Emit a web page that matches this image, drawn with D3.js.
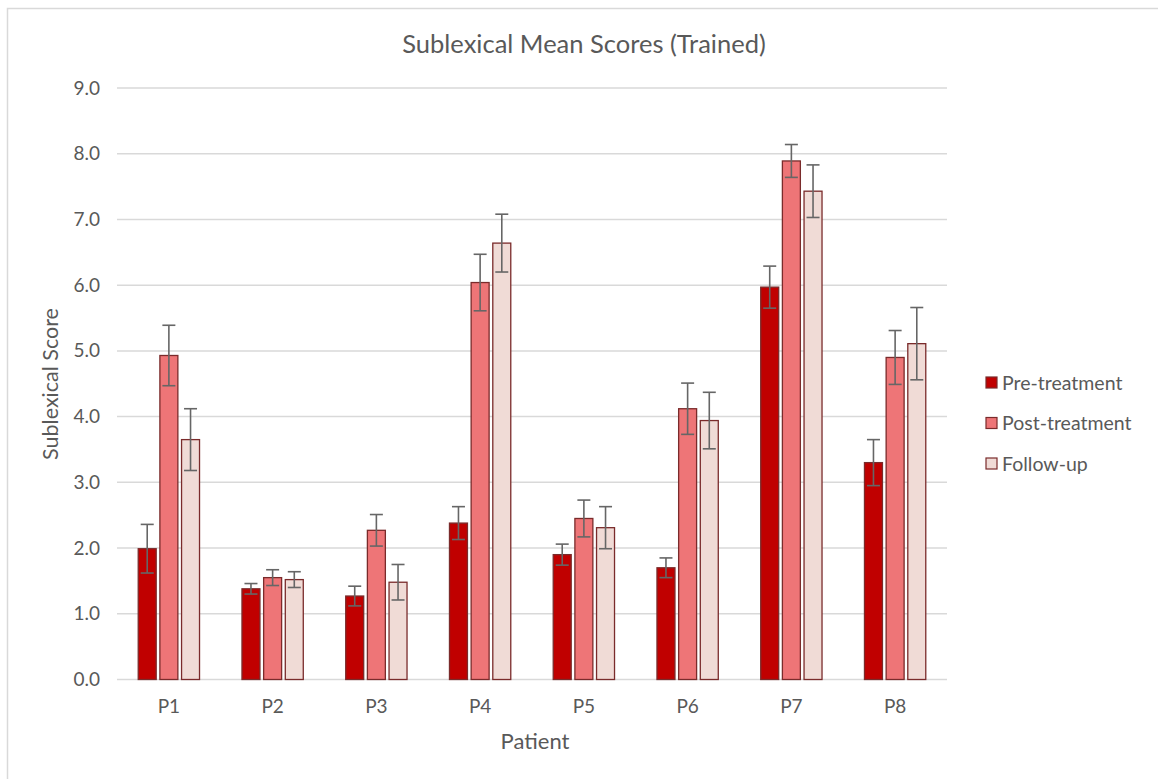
<!DOCTYPE html>
<html><head><meta charset="utf-8">
<script src="https://cdn.jsdelivr.net/npm/d3@7"></script>
<style>body{margin:0;background:#fff;} svg{display:block;}</style>
</head><body>
<svg id="c" width="1158" height="779"></svg>
<script>
const patients = ["P1","P2","P3","P4","P5","P6","P7","P8"];
const seriesNames = ["Pre-treatment","Post-treatment","Follow-up"];
const preValues    = [1.99, 1.38, 1.27, 2.38, 1.90, 1.70, 5.97, 3.30];
const postValues   = [4.93, 1.55, 2.27, 6.04, 2.45, 4.12, 7.89, 4.90];
const followValues = [3.65, 1.52, 1.48, 6.64, 2.31, 3.94, 7.43, 5.11];
const preErrors    = [0.37, 0.08, 0.15, 0.25, 0.16, 0.15, 0.32, 0.35];
const postErrors   = [0.46, 0.12, 0.24, 0.43, 0.28, 0.39, 0.25, 0.41];
const followErrors = [0.47, 0.12, 0.27, 0.44, 0.32, 0.43, 0.40, 0.55];
const yTicks = [0,1,2,3,4,5,6,7,8,9];
const colors = ["#C00000","#EE7577","#F0DBD6"];

const values = [preValues, postValues, followValues];
const errors = [preErrors, postErrors, followErrors];
const data = patients.flatMap((p,i)=>seriesNames.map((s,j)=>({p, s, j, v: values[j][i], e: errors[j][i]})));

const svg = d3.select("#c");
const font = "Lato, 'Open Sans', sans-serif";
const textCol = "#595959";

// chart border
svg.append("path").attr("d","M7.5,779 L7.5,8.5 L1158,8.5").attr("fill","none").attr("stroke","#d9d9d9").attr("stroke-width",1.5);

const pLeft=117, pRight=947, pTop=88, pBottom=679.5;
const x = d3.scaleBand().domain(patients).range([pLeft,pRight]);
const xs = d3.scaleBand().domain(seriesNames).range([0,x.bandwidth()]).paddingInner(0.17).paddingOuter(0.98);
const y = d3.scaleLinear().domain([0,9]).range([pBottom,pTop]);

// gridlines
svg.append("g").selectAll("line").data(yTicks).join("line")
  .attr("x1",pLeft).attr("x2",pRight).attr("y1",d=>y(d)).attr("y2",d=>y(d))
  .attr("stroke","#d9d9d9").attr("stroke-width",1.5);

// y axis
const yAxis = d3.axisLeft(y).tickValues(yTicks).tickFormat(d3.format(".1f")).tickSize(0).tickPadding(17);
const gy = svg.append("g").attr("transform",`translate(${pLeft},0)`).call(yAxis);
gy.select(".domain").remove();
gy.selectAll("text").attr("font-family",font).attr("font-size",19).attr("fill",textCol);

// x axis
const xAxis = d3.axisBottom(x).tickSize(0).tickPadding(20);
const gx = svg.append("g").attr("transform",`translate(0,${pBottom})`).call(xAxis);
gx.select(".domain").remove();
gx.selectAll("text").attr("font-family",font).attr("font-size",19).attr("fill",textCol);

// bars
svg.append("g").selectAll("rect").data(data).join("rect")
  .attr("x",d=>x(d.p)+xs(d.s)).attr("width",xs.bandwidth())
  .attr("y",d=>y(d.v)).attr("height",d=>y(0)-y(d.v))
  .attr("fill",d=>colors[d.j]).attr("stroke","#7a2b2b").attr("stroke-width",1.3);

// error bars
const eg = svg.append("g").attr("stroke","#666").attr("stroke-width",1.6);
const cx = d=>x(d.p)+xs(d.s)+xs.bandwidth()/2;
eg.selectAll("line.v").data(data).join("line").attr("class","v")
  .attr("x1",cx).attr("x2",cx).attr("y1",d=>y(d.v+d.e)).attr("y2",d=>y(d.v-d.e));
eg.selectAll("line.t").data(data).join("line").attr("class","t")
  .attr("x1",d=>cx(d)-6.5).attr("x2",d=>cx(d)+6.5).attr("y1",d=>y(d.v+d.e)).attr("y2",d=>y(d.v+d.e));
eg.selectAll("line.b").data(data).join("line").attr("class","b")
  .attr("x1",d=>cx(d)-6.5).attr("x2",d=>cx(d)+6.5).attr("y1",d=>y(d.v-d.e)).attr("y2",d=>y(d.v-d.e));

// title
svg.append("text").attr("x",584).attr("y",53).attr("text-anchor","middle")
  .attr("font-family",font).attr("font-size",25.5).attr("fill",textCol).text("Sublexical Mean Scores (Trained)");
// axis titles
svg.append("text").attr("x",535).attr("y",749).attr("text-anchor","middle")
  .attr("font-family",font).attr("font-size",22).attr("fill",textCol).text("Patient");
svg.append("text").attr("transform","translate(58,384) rotate(-90)").attr("text-anchor","middle")
  .attr("font-family",font).attr("font-size",21.5).attr("fill",textCol).text("Sublexical Score");

// legend
const lg = svg.append("g").selectAll("g").data(seriesNames).join("g")
  .attr("transform",(d,i)=>`translate(986,${377+i*40.5})`);
lg.append("rect").attr("width",11).attr("height",11).attr("fill",(d,i)=>colors[i]).attr("stroke","#7a2b2b").attr("stroke-width",1.2);
lg.append("text").attr("x",16).attr("y",12.5).attr("font-family",font).attr("font-size",19.5).attr("fill",textCol).text(d=>d);
</script>
</body></html>
